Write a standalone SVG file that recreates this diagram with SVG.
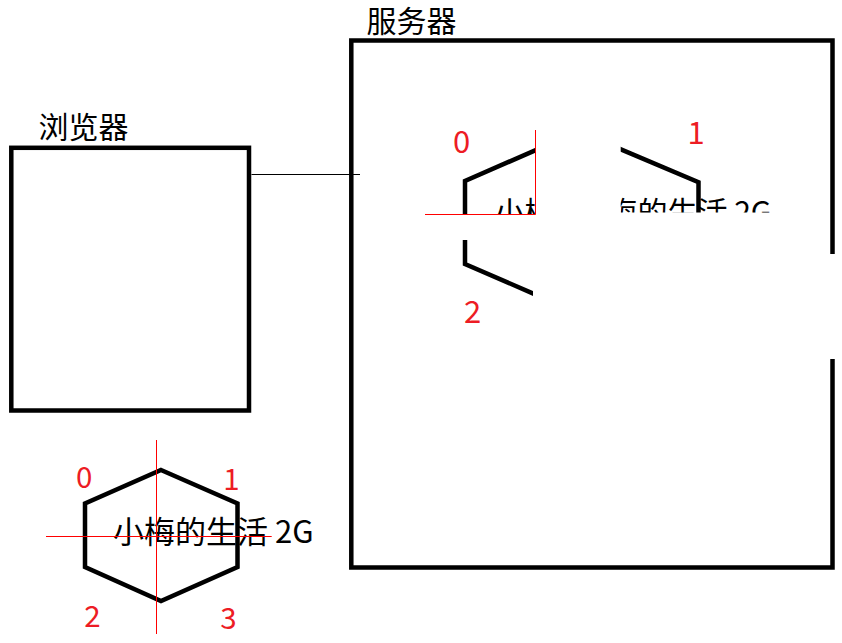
<svg xmlns="http://www.w3.org/2000/svg" width="842" height="643" viewBox="0 0 842 643">
  <style>
    .box { fill: none; stroke: #000; stroke-width: 4.5; stroke-linejoin: miter; }
    .hex { fill: none; stroke: #000; stroke-width: 4.5; stroke-linejoin: miter; stroke-linecap: butt; }
    .axis { stroke: #ff0000; stroke-width: 1; fill: none; }
    .lbl { font-family: "Noto Sans CJK SC", "Noto Sans", sans-serif; fill: #000; }
    .num { font-family: "Noto Sans CJK SC", "Noto Sans", sans-serif; fill: #ed1c24; text-anchor: middle; }
    .conn { stroke: #000; stroke-width: 1; fill: none; }
  </style>
  <defs>
    <clipPath id="tileL"><rect x="352" y="40" width="183.7" height="174.3"/></clipPath>
    <clipPath id="tileR"><rect x="620.7" y="40" width="211" height="172.5"/></clipPath>
    <clipPath id="tileB"><rect x="352" y="240" width="181" height="327"/></clipPath>
  </defs>
  <rect width="842" height="643" fill="#fff"/>

  <g id="browser">
    <rect class="box" x="11.3" y="147.8" width="237.7" height="262.7"/>
    <text class="lbl" x="38.5" y="138" font-size="30">浏览器</text>
  </g>

  <g id="server">
    <path class="box" d="M832.5 254 V40.5 H351.3 V567.5 H832.5 V359"/>
    <text class="lbl" x="366.5" y="31.5" font-size="30">服务器</text>
  </g>

  <g id="hex-server">
    <g clip-path="url(#tileL)">
      <text class="lbl" x="494.5" y="223" font-size="30">小梅的生活 2G</text>
      <polyline class="hex" points="465,230 465,181 545,146"/>
    </g>
    <g clip-path="url(#tileR)">
      <text class="lbl" x="577.5" y="223" font-size="30">小梅的生活 2G</text>
      <polyline class="hex" points="600,140.5 698.5,182.3 698.5,230"/>
    </g>
    <g clip-path="url(#tileB)">
      <polyline class="hex" points="465,230 465,264 545,298.7"/>
    </g>
    <line class="axis" x1="535.5" y1="130" x2="535.5" y2="214.5"/>
    <line class="axis" x1="425" y1="214.5" x2="535.5" y2="214.5"/>
    <text class="num" x="461.5" y="153" font-size="31">0</text>
    <text class="num" x="696" y="143.5" font-size="31">1</text>
    <text class="num" x="472.5" y="322.5" font-size="31">2</text>
  </g>

  <g id="hex-small">
    <polygon class="hex" points="161,470 237.5,503.5 237.5,567 161,601 85,567 85,503.5"/>
    <text class="lbl" x="113" y="542.5" font-size="31">小梅的生活 2G</text>
    <line class="axis" x1="156.5" y1="440" x2="156.5" y2="634"/>
    <line class="axis" x1="46" y1="536.5" x2="271.7" y2="536.5"/>
    <text class="num" x="84.2" y="488" font-size="29.5">0</text>
    <text class="num" x="231.5" y="490" font-size="29.5">1</text>
    <text class="num" x="92.5" y="627" font-size="29.5">2</text>
    <text class="num" x="228.5" y="629" font-size="29.5">3</text>
  </g>

  <g id="connectors">
    <line class="conn" x1="251.5" y1="174.5" x2="360" y2="174.5"/>
  </g>
</svg>
